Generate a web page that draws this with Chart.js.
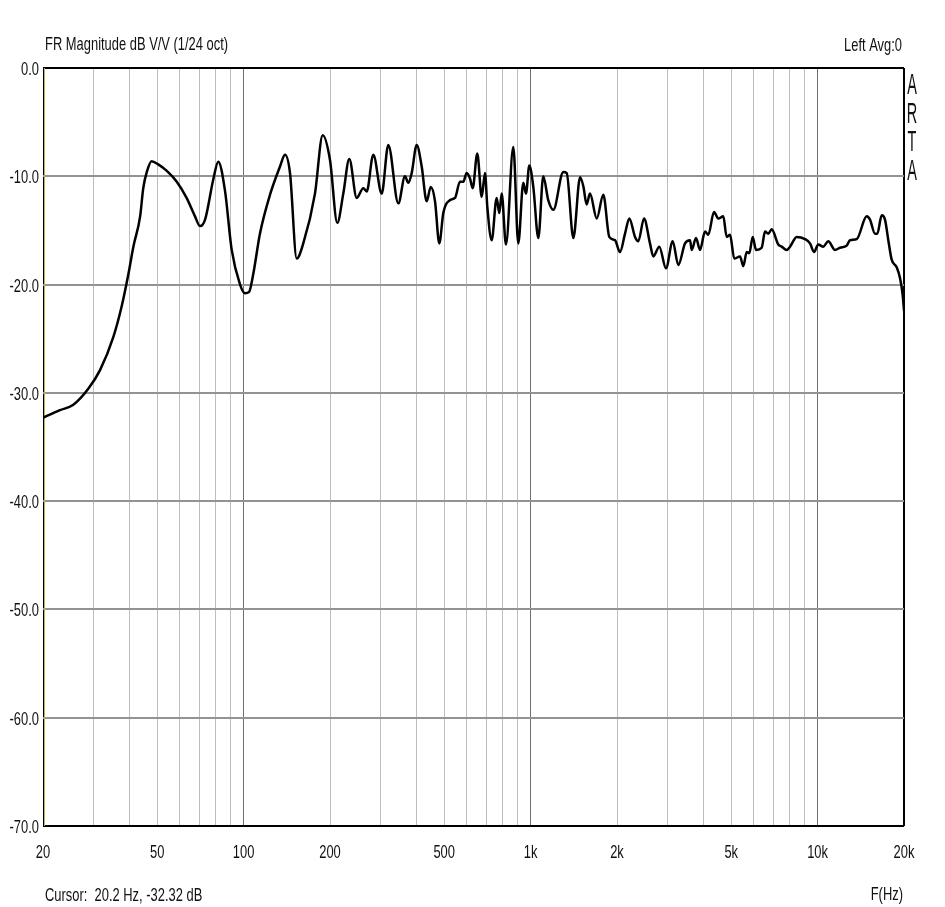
<!DOCTYPE html>
<html>
<head>
<meta charset="utf-8">
<title>FR Magnitude dB V/V</title>
<script src="https://cdn.jsdelivr.net/npm/chart.js@4.4.0/dist/chart.umd.min.js"></script>
<style>
  html, body { margin: 0; padding: 0; background: #fff; }
  canvas { display: block; }
</style>
</head>
<body>
<canvas id="frChart" width="945" height="907"></canvas>
<script>
// Magnitude response (Hz, dB)
const freqs = [
  20, 22.9, 25.5, 28.8, 31.6, 35.2, 37.6, 39.7, 41.3, 43.6,
  44.7, 46.0, 47.8, 50.4, 54.0, 58.5, 63.3, 67.7, 70.5, 73.4,
  78.4, 81.6, 86.1, 90.9, 97.2, 101.1, 104.4, 108.1, 114.0, 123.6,
  133.9, 139.4, 145.1, 153.1, 161.4, 177.3, 188.6, 200, 212.0, 222.5,
  233.5, 247.8, 261.2, 268.5, 283.1, 302.8, 319.3, 346.0, 365.0, 374.8,
  385.2, 401.0, 417.4, 434.4, 448.7, 464.4, 480.7, 496.4, 523.8, 545.2,
  567.6, 582.8, 598.8, 614.9, 628.4, 651.9, 675.5, 693.6, 706.5, 731.8,
  761.7, 777.9, 793.0, 820.7, 870.4, 905.9, 943.0, 963.6, 989.7, 1022,
  1064, 1107, 1152, 1200, 1300, 1336, 1409, 1487, 1526, 1568,
  1610, 1700, 1792, 1880, 1968, 2048, 2133, 2208, 2311, 2373,
  2484, 2606, 2676, 2808, 2963, 3127, 3271, 3451, 3593, 3642,
  3770, 3893, 4052, 4160, 4355, 4508, 4692, 4822, 4952, 5125,
  5366, 5510, 5662, 5782, 5942, 6101, 6386, 6557, 6734, 6918,
  7295, 7497, 7805, 8014, 8456, 9039, 9409, 9716, 10056, 10467,
  10895, 11497, 11967, 12628, 12969, 13686, 14826, 15224, 15850, 16145,
  16724, 17172, 17634, 18118, 18862, 19370, 19794, 20000
];
const magDb = [
  -32.3, -31.6, -31.1, -29.6, -27.9, -24.8, -22.0, -19.0, -16.5, -13.7,
  -11.1, -9.6, -8.6, -8.9, -9.5, -10.5, -12.0, -13.7, -14.6, -14.0,
  -10.3, -8.65, -11.3, -16.8, -20.0, -20.8, -20.7, -19.0, -15.3, -11.7,
  -9.1, -8.0, -9.7, -17.6, -16.2, -11.6, -6.2, -8.5, -14.3, -11.6,
  -8.4, -12.0, -11.1, -11.4, -8.0, -11.6, -7.1, -12.5, -10.0, -10.6,
  -9.7, -7.1, -9.1, -12.3, -11.0, -12.3, -16.2, -13.4, -12.2, -12.0,
  -10.5, -10.5, -9.7, -10.2, -11.1, -7.9, -11.9, -9.7, -12.8, -15.9,
  -12.0, -13.4, -11.6, -16.3, -7.3, -16.2, -10.6, -11.6, -9.0, -11.0,
  -15.7, -10.0, -12.2, -13.1, -9.6, -9.7, -15.7, -10.1, -10.9, -12.6,
  -11.6, -13.9, -11.7, -15.6, -15.9, -17.0, -15.3, -13.9, -15.6, -16.0,
  -13.9, -16.2, -17.4, -16.5, -18.5, -16.0, -18.2, -16.2, -15.9, -16.8,
  -15.7, -16.8, -15.1, -15.4, -13.3, -13.9, -13.7, -15.6, -15.4, -17.6,
  -17.4, -18.3, -17.0, -17.1, -15.6, -16.8, -16.6, -15.1, -15.3, -14.9,
  -16.3, -16.5, -16.8, -16.5, -15.6, -15.8, -16.2, -17.0, -16.3, -16.5,
  -16.0, -16.8, -16.6, -16.4, -15.9, -15.8, -13.7, -14.0, -15.3, -15.3,
  -13.6, -14.0, -15.9, -17.7, -18.4, -19.4, -21.0, -22.4
];

// Grid lines and axis labels
const gridFreqs = [
  20, 30, 40, 50, 60, 70, 80, 90, 100,
  200, 300, 400, 500, 600, 700, 800, 900, 1000,
  2000, 3000, 4000, 5000, 6000, 7000, 8000, 9000, 10000, 20000
];
const decadeFreqs = [100, 1000, 10000];
const freqLabels = [20, 50, 100, 200, 500, 1000, 2000, 5000, 10000, 20000];
const freqLabelText = ['20', '50', '100', '200', '500', '1k', '2k', '5k', '10k', '20k'];
const dbTicks = [0, -10, -20, -30, -40, -50, -60, -70];
const cursorFreq = 20.2;
const cursorDb = -32.32;

const FONT = '19px "Liberation Sans", Arial, sans-serif';
const SQUEEZE = 0.68;

// draw horizontally condensed text, like the ARTA screen font
function drawText(ctx, str, x, y, align, sx, font) {
  ctx.save();
  ctx.font = font || FONT;
  ctx.translate(x, y);
  ctx.scale(sx || SQUEEZE, 1);
  ctx.textAlign = align;
  ctx.textBaseline = 'alphabetic';
  ctx.fillStyle = '#111';
  ctx.fillText(str, 0, 0);
  ctx.restore();
}

const labelsPlugin = {
  id: 'artaLabels',
  beforeDatasetsDraw(chart) {
    // cursor line
    const ctx = chart.ctx;
    const xs = chart.scales.x;
    const area = chart.chartArea;
    const cx = Math.round(xs.getPixelForValue(cursorFreq)) + 0.5;
    ctx.save();
    ctx.strokeStyle = '#b9b45a';
    ctx.lineWidth = 1;
    ctx.beginPath();
    ctx.moveTo(cx, area.top);
    ctx.lineTo(cx, area.bottom);
    ctx.stroke();
    ctx.restore();
  },
  afterDraw(chart) {
    const ctx = chart.ctx;
    const xs = chart.scales.x;
    const ys = chart.scales.y;
    const area = chart.chartArea;

    dbTicks.forEach(v => {
      drawText(ctx, v.toFixed(1), area.left - 4, ys.getPixelForValue(v) + 7, 'right');
    });
    freqLabels.forEach((f, i) => {
      drawText(ctx, freqLabelText[i], xs.getPixelForValue(f), area.bottom + 32, 'center');
    });

    drawText(ctx, 'FR Magnitude dB V/V (1/24 oct)', 45, 50, 'left');
    drawText(ctx, 'Left Avg:0', 902, 51, 'right');
    drawText(ctx, 'Cursor:  ' + cursorFreq.toFixed(1) + ' Hz, ' + cursorDb.toFixed(2) + ' dB', 45, 901, 'left');
    drawText(ctx, 'F(Hz)', 903, 900, 'right');

    const arta = ['A', 'R', 'T', 'A'];
    arta.forEach((ch, i) => {
      drawText(ctx, ch, 912, 94 + i * 28.5, 'center', 0.5, '29px "Liberation Sans", Arial, sans-serif');
    });
  }
};

const ctx = document.getElementById('frChart');
new Chart(ctx, {
  type: 'line',
  data: {
    datasets: [{
      label: 'FR Magnitude',
      data: freqs.map((f, i) => ({ x: f, y: magDb[i] })),
      borderColor: '#000',
      borderWidth: 2.5,
      pointRadius: 0,
      cubicInterpolationMode: 'monotone',
      fill: false
    }]
  },
  options: {
    responsive: false,
    animation: false,
    layout: { padding: { left: 43, right: 41, top: 68, bottom: 81 } },
    plugins: {
      legend: { display: false },
      tooltip: { enabled: false }
    },
    scales: {
      x: {
        type: 'logarithmic',
        min: 20,
        max: 20000,
        afterBuildTicks: scale => { scale.ticks = gridFreqs.map(v => ({ value: v })); },
        afterFit: scale => { scale.height = 0; },
        ticks: { display: false },
        border: { display: false },
        grid: {
          drawTicks: false,
          color: c => {
            const v = c.tick.value;
            if (v === 20 || v === 20000) return '#000';
            return decadeFreqs.includes(v) ? '#6e6e6e' : '#bdbdbd';
          },
          lineWidth: c => (c.tick.value === 20000 ? 2 : 1)
        }
      },
      y: {
        min: -70,
        max: 0,
        afterBuildTicks: scale => { scale.ticks = dbTicks.map(v => ({ value: v })); },
        afterFit: scale => { scale.width = 0; },
        ticks: { display: false },
        border: { display: false },
        grid: {
          drawTicks: false,
          color: c => (c.tick.value === 0 || c.tick.value === -70 ? '#000' : '#939393'),
          lineWidth: 2
        }
      }
    }
  },
  plugins: [labelsPlugin]
});
</script>
</body>
</html>
